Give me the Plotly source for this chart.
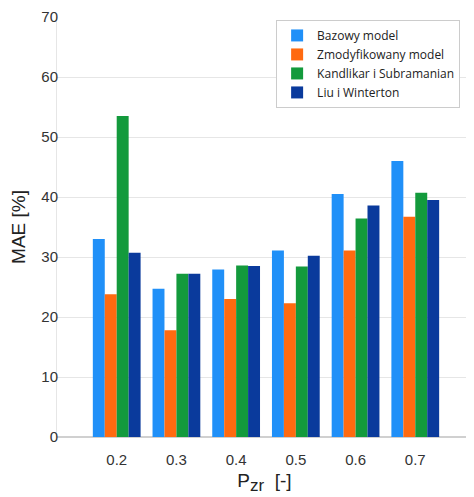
import plotly.graph_objects as go

categories = ["0.2", "0.3", "0.4", "0.5", "0.6", "0.7"]
bazowy = [33.0, 24.7, 27.9, 31.1, 40.5, 46.0]
zmodyfikowany = [23.8, 17.8, 23.0, 22.3, 31.1, 36.7]
kandlikar = [53.5, 27.2, 28.6, 28.4, 36.4, 40.7]
liu = [30.7, 27.2, 28.5, 30.2, 38.6, 39.5]

series = [
    ("Bazowy model", bazowy, "#2090f8"),
    ("Zmodyfikowany model", zmodyfikowany, "#ff6a10"),
    ("Kandlikar i Subramanian", kandlikar, "#139a3c"),
    ("Liu i Winterton", liu, "#0a3a9c"),
]

fig = go.Figure()
for name, vals, col in series:
    fig.add_trace(go.Bar(x=categories, y=vals, name=name, marker_color=col,
                         marker_line_width=0))

# page body has an 8px margin, so the figure is drawn 8px smaller
fig.update_layout(
    width=466, height=489,
    margin=dict(l=49, r=2, t=9, b=60, autoexpand=False),
    paper_bgcolor="white", plot_bgcolor="white",
    barmode="group", bargap=0.2, bargroupgap=0,
    font=dict(family="Liberation Sans, Arial, sans-serif", color="#222"),
    legend=dict(x=0.528, y=0.993, xanchor="left", yanchor="top",
                bgcolor="white", bordercolor="#cccccc", borderwidth=1,
                font=dict(family="Open Sans, sans-serif", size=12, color="#222"),
                itemwidth=30, tracegroupgap=0),
    xaxis=dict(range=[-1, 5.95], showgrid=False, showline=False, ticks="",
               tickfont=dict(size=15, color="#333"), ticklabelstandoff=12,
               title=dict(text="P<sub><span style='font-size:17px'>zr</span></sub>  [-]",
                          font=dict(size=19, color="#222"), standoff=6)),
    yaxis=dict(range=[0, 70], dtick=10, showgrid=True, gridcolor="#e6e6e6",
               zeroline=True, zerolinecolor="#d0d0d0", showline=True, linecolor="#e6e6e6",
               tickfont=dict(size=15, color="#333"), ticks="", ticklabelstandoff=-5,
               title=dict(text="MAE [%]", font=dict(size=19, color="#222"), standoff=13)),
)

fig.write_html("out.html")
